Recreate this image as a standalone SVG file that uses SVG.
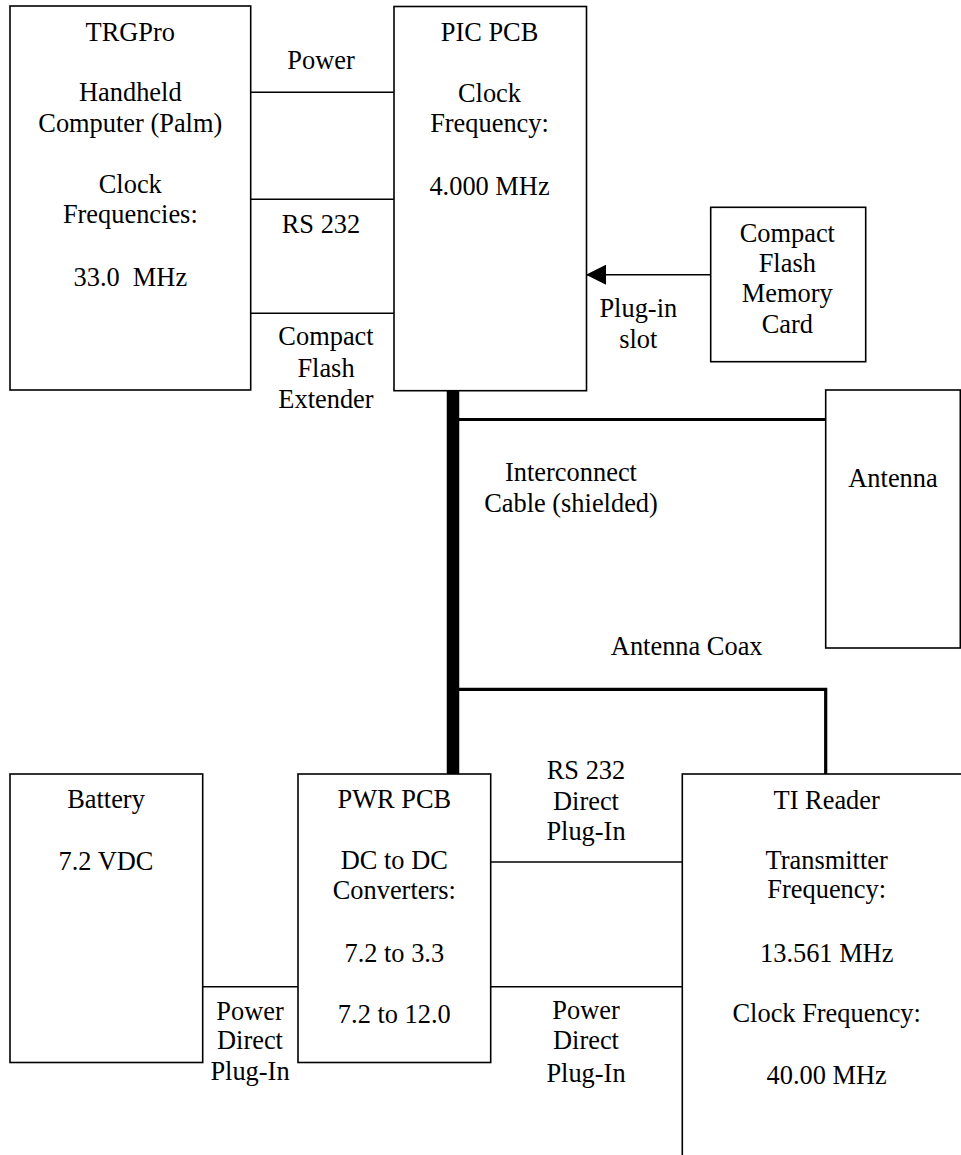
<svg xmlns="http://www.w3.org/2000/svg" width="961" height="1155" viewBox="0 0 961 1155">
<style>
  .box { fill: #fff; stroke: #000; stroke-width: 1.6; }
  .ln { stroke: #000; stroke-width: 1.4; fill: none; }
  .thick { stroke: #000; stroke-width: 12.5; fill: none; }
  .mid { stroke: #000; stroke-width: 3.2; fill: none; }
  text { font-family: "Liberation Serif", "Times New Roman", serif; font-size: 26.4px; fill: #000; text-anchor: middle; }
</style>
<defs>
  <marker id="arr" markerWidth="20" markerHeight="20" refX="19" refY="10" orient="auto" markerUnits="userSpaceOnUse">
    <path d="M0,0 L20,10 L0,20 Z" fill="#000"/>
  </marker>
</defs>
<rect width="961" height="1155" fill="#fff"/>

<g id="connectors">
  <line class="ln" x1="250.7" y1="92.3" x2="394" y2="92.3"/>
  <line class="ln" x1="250.7" y1="199.3" x2="394" y2="199.3"/>
  <line class="ln" x1="250.7" y1="313.3" x2="394" y2="313.3"/>
  <line class="ln" x1="710.7" y1="274.7" x2="587" y2="274.7" marker-end="url(#arr)"/>
  <line class="thick" x1="453" y1="390.7" x2="453" y2="774"/>
  <line class="mid" x1="459" y1="419.5" x2="825.7" y2="419.5"/>
  <polyline class="mid" points="459,689.3 825.7,689.3 825.7,774"/>
  <line class="ln" x1="202.7" y1="986.7" x2="298" y2="986.7"/>
  <line class="ln" x1="490.7" y1="862" x2="682.3" y2="862"/>
  <line class="ln" x1="490.7" y1="986.7" x2="682.3" y2="986.7"/>
  <text x="321" y="69">Power</text>
  <text x="321" y="233.3">RS 232</text>
  <text x="326" y="345">Compact</text>
  <text x="326" y="376.7">Flash</text>
  <text x="326" y="408.3">Extender</text>
  <text x="638.3" y="317.3">Plug-in</text>
  <text x="638.3" y="348.3">slot</text>
  <text x="571" y="481">Interconnect</text>
  <text x="571" y="512">Cable (shielded)</text>
  <text x="686.7" y="655">Antenna Coax</text>
  <text x="586" y="779.3">RS 232</text>
  <text x="586" y="810">Direct</text>
  <text x="586" y="840">Plug-In</text>
  <text x="586" y="1019.3">Power</text>
  <text x="586" y="1049.3">Direct</text>
  <text x="586" y="1081.7">Plug-In</text>
  <text x="250" y="1020">Power</text>
  <text x="250" y="1049.3">Direct</text>
  <text x="250" y="1080">Plug-In</text>
</g>

<g id="trgpro">
  <rect class="box" x="10" y="6" width="240.7" height="384"/>
  <text x="130.3" y="40.7">TRGPro</text>
  <text x="130.3" y="100.7">Handheld</text>
  <text x="130.3" y="131.7">Computer (Palm)</text>
  <text x="130.3" y="193">Clock</text>
  <text x="130.3" y="223">Frequencies:</text>
  <text x="130.3" y="285.5">33.0&#160; MHz</text>
</g>

<g id="pic">
  <rect class="box" x="394" y="6.5" width="192.5" height="384.2"/>
  <text x="489.5" y="40.7">PIC PCB</text>
  <text x="489.5" y="101.7">Clock</text>
  <text x="489.5" y="131.7">Frequency:</text>
  <text x="489.5" y="195">4.000 MHz</text>
</g>

<g id="cfcard">
  <rect class="box" x="710.7" y="207.3" width="155" height="154.4"/>
  <text x="787.3" y="241.7">Compact</text>
  <text x="787.3" y="272">Flash</text>
  <text x="787.3" y="302">Memory</text>
  <text x="787.3" y="333.3">Card</text>
</g>

<g id="antenna">
  <rect class="box" x="825.7" y="390" width="134.6" height="258"/>
  <text x="893" y="486.7">Antenna</text>
</g>

<g id="battery">
  <rect class="box" x="10" y="774" width="192.7" height="288.5"/>
  <text x="106" y="808.3">Battery</text>
  <text x="106" y="870">7.2 VDC</text>
</g>

<g id="pwr">
  <rect class="box" x="298" y="774" width="192.7" height="288.5"/>
  <text x="394.3" y="808.3">PWR PCB</text>
  <text x="394.3" y="869.3">DC to DC</text>
  <text x="394.3" y="899.3">Converters:</text>
  <text x="394.3" y="961.7">7.2 to 3.3</text>
  <text x="394.3" y="1023.3">7.2 to 12.0</text>
</g>

<g id="tireader">
  <rect class="box" x="682.3" y="774" width="295" height="400"/>
  <text x="826.7" y="809">TI Reader</text>
  <text x="826.7" y="869">Transmitter</text>
  <text x="826.7" y="898.3">Frequency:</text>
  <text x="826.7" y="961.7">13.561 MHz</text>
  <text x="826.7" y="1022.3">Clock Frequency:</text>
  <text x="826.7" y="1084">40.00 MHz</text>
</g>
</svg>
